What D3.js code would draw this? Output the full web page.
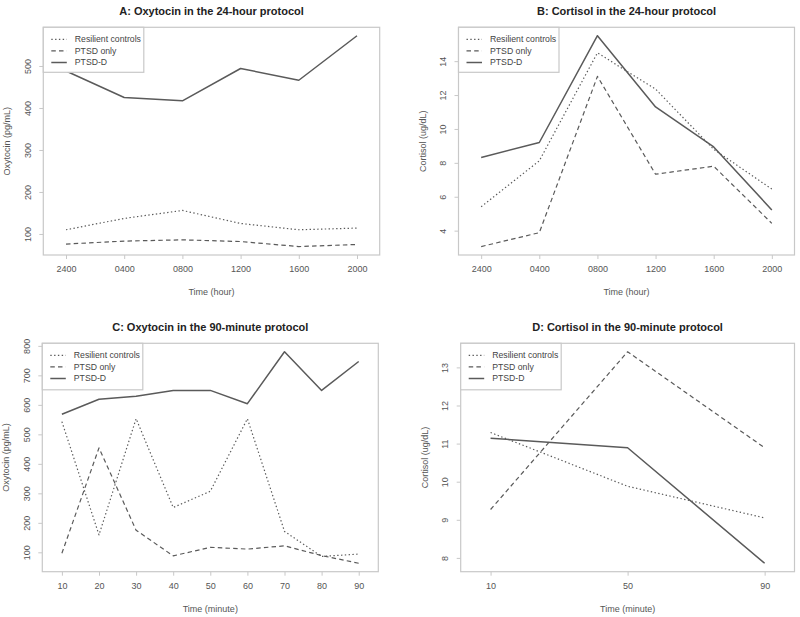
<!DOCTYPE html>
<html>
<head>
<meta charset="utf-8">
<script src="https://cdn.jsdelivr.net/npm/d3@7"></script>
<style>
  html, body { margin: 0; padding: 0; background: #fff; }
  svg { display: block; font-family: "Liberation Sans", Arial, Helvetica, sans-serif; }
</style>
</head>
<body>
<svg id="chart" width="800" height="617"></svg>
<script>
// ---------------- DATA ----------------
const seriesNames = ["Resilient controls", "PTSD only", "PTSD-D"];

// Panel A: Oxytocin, 24-hour protocol
const hourLabels = ["2400", "0400", "0800", "1200", "1600", "2000"];
const oxy24Resilient = [110, 137, 156, 125, 110, 114];
const oxy24PTSD      = [76, 83, 86, 82, 70, 75];
const oxy24PTSDD     = [488, 425, 417, 494, 466, 572];

// Panel B: Cortisol, 24-hour protocol
const cort24Resilient = [5.41, 8.12, 14.49, 12.35, 8.8, 6.45];
const cort24PTSD      = [3.06, 3.88, 13.1, 7.33, 7.8, 4.43];
const cort24PTSDD     = [8.32, 9.2, 15.5, 11.3, 8.94, 5.22];

// Panel C: Oxytocin, 90-minute protocol
const minutesC = [10, 20, 30, 40, 50, 60, 70, 80, 90];
const oxy90Resilient = [543, 159, 553, 252, 307, 553, 171, 86, 94];
const oxy90PTSD      = [97, 454, 175, 88, 117, 111, 122, 89, 63];
const oxy90PTSDD     = [568, 619, 629, 649, 649, 604, 780, 649, 747];

// Panel D: Cortisol, 90-minute protocol
const minutesD = [10, 50, 90];
const cort90Resilient = [11.29, 9.88, 9.05];
const cort90PTSD      = [9.27, 13.41, 10.89];
const cort90PTSDD     = [11.14, 10.89, 7.86];

// Tick values
const yTicksA = [100, 200, 300, 400, 500];
const yTicksB = [4, 6, 8, 10, 12, 14];
const yTicksC = [100, 200, 300, 400, 500, 600, 700, 800];
const yTicksD = [8, 9, 10, 11, 12, 13];

// ---------------- LAYOUT / STYLE ----------------
const svg = d3.select("#chart");
const lineColor = "#5a5a5a";
const boxColor = "#c8c8c8";
const textColor = "#555";
const dashes = ["1.4,2.4", "4.5,3.2", null];
const widths = [1.2, 1.2, 1.5];

const panels = [
  { title: "A: Oxytocin in the 24-hour protocol", ylab: "Oxytocin (pg/mL)", xlab: "Time (hour)",
    x0: 43.3, x1: 379.7, y0: 27.3, y1: 255, xPad: 0.078,
    xs: hourLabels.map((d, i) => i), xLabels: hourLabels, xTicks: hourLabels.map((d, i) => i),
    series: [oxy24Resilient, oxy24PTSD, oxy24PTSDD], yTicks: yTicksA },
  { title: "B: Cortisol in the 24-hour protocol", ylab: "Cortisol (ug/dL)", xlab: "Time (hour)",
    x0: 458.5, x1: 794.5, y0: 27.3, y1: 255, xPad: 0.078,
    xs: hourLabels.map((d, i) => i), xLabels: hourLabels, xTicks: hourLabels.map((d, i) => i),
    series: [cort24Resilient, cort24PTSD, cort24PTSDD], yTicks: yTicksB },
  { title: "C: Oxytocin in the 90-minute protocol", ylab: "Oxytocin (pg/mL)", xlab: "Time (minute)",
    x0: 42.3, x1: 378.3, y0: 343.3, y1: 571.7, xPad: 0.066,
    xs: minutesC, xLabels: minutesC.map(String), xTicks: minutesC,
    series: [oxy90Resilient, oxy90PTSD, oxy90PTSDD], yTicks: yTicksC },
  { title: "D: Cortisol in the 90-minute protocol", ylab: "Cortisol (ug/dL)", xlab: "Time (minute)",
    x0: 460.7, x1: 794.5, y0: 343.3, y1: 571.7, xPad: 0.109,
    xs: minutesD, xLabels: minutesD.map(String), xTicks: minutesD,
    series: [cort90Resilient, cort90PTSD, cort90PTSDD], yTicks: yTicksD }
];

panels.forEach(p => {
  const g = svg.append("g");
  const xmin = d3.min(p.xs), xmax = d3.max(p.xs);
  const xr = xmax - xmin;
  const x = d3.scaleLinear().domain([xmin - xr * p.xPad, xmax + xr * p.xPad]).range([p.x0, p.x1]);
  const all = p.series.flat();
  const ymin = d3.min(all), ymax = d3.max(all), yr = ymax - ymin;
  const y = d3.scaleLinear().domain([ymin - 0.04 * yr, ymax + 0.04 * yr]).range([p.y1, p.y0]);

  // lines
  const line = d3.line().x((d, i) => x(p.xs[i])).y(d => y(d));
  p.series.forEach((s, k) => {
    g.append("path").datum(s)
      .attr("d", line)
      .attr("fill", "none")
      .attr("stroke", lineColor)
      .attr("stroke-width", widths[k])
      .attr("stroke-dasharray", dashes[k])
      .attr("stroke-linejoin", "round");
  });

  // x axis
  const xAxis = d3.axisBottom(x).tickValues(p.xTicks)
    .tickFormat((d, i) => p.xLabels[i]).tickSize(4).tickPadding(7);
  const gx = g.append("g").attr("transform", `translate(0,${p.y1})`).call(xAxis);
  gx.select(".domain").remove();
  gx.selectAll(".tick line").attr("stroke", boxColor);
  gx.selectAll(".tick text").attr("fill", textColor).attr("font-size", 9)
    .attr("font-family", "Liberation Sans, Arial, sans-serif");

  // y axis
  const yAxis = d3.axisLeft(y).tickValues(p.yTicks).tickFormat(d3.format("~g")).tickSize(4).tickPadding(0);
  const gy = g.append("g").attr("transform", `translate(${p.x0},0)`).call(yAxis);
  gy.select(".domain").remove();
  gy.selectAll(".tick line").attr("stroke", boxColor);
  gy.selectAll(".tick text")
    .attr("fill", textColor).attr("font-size", 9)
    .attr("font-family", "Liberation Sans, Arial, sans-serif")
    .attr("x", null).attr("dy", null)
    .attr("text-anchor", "middle")
    .attr("transform", "translate(-15.5,0) rotate(-90)")
    .attr("dominant-baseline", "central");

  // box
  g.append("rect")
    .attr("x", p.x0).attr("y", p.y0)
    .attr("width", p.x1 - p.x0).attr("height", p.y1 - p.y0)
    .attr("fill", "none").attr("stroke", boxColor).attr("stroke-width", 1.2);

  // titles
  g.append("text")
    .attr("x", (p.x0 + p.x1) / 2).attr("y", p.y0 - 12.5)
    .attr("text-anchor", "middle").attr("font-size", 11).attr("font-weight", "bold")
    .attr("fill", "#222").text(p.title);
  g.append("text")
    .attr("x", (p.x0 + p.x1) / 2).attr("y", p.y1 + 40)
    .attr("text-anchor", "middle").attr("font-size", 9).attr("fill", textColor).text(p.xlab);
  g.append("text")
    .attr("transform", `translate(${p.x0 - 36},${(p.y0 + p.y1) / 2}) rotate(-90)`)
    .attr("text-anchor", "middle").attr("dominant-baseline", "central")
    .attr("font-size", 9).attr("fill", textColor).text(p.ylab);

  // legend
  const lg = g.append("g").attr("transform", `translate(${p.x0},${p.y0})`);
  lg.append("rect").attr("x", 0).attr("y", 0).attr("width", 100.5).attr("height", p.y0 > 300 ? 46.5 : 45)
    .attr("fill", "#fff").attr("stroke", boxColor).attr("stroke-width", 1.2);
  seriesNames.forEach((name, k) => {
    const yy = 12 + k * 11.6;
    lg.append("line").attr("x1", 8).attr("x2", 23.5).attr("y1", yy).attr("y2", yy)
      .attr("stroke", lineColor).attr("stroke-width", widths[k]).attr("stroke-dasharray", dashes[k]);
    lg.append("text").attr("x", 31.5).attr("y", yy).attr("dominant-baseline", "central")
      .attr("font-size", 8.7).attr("fill", "#444").text(name);
  });
});
</script>
</body>
</html>
